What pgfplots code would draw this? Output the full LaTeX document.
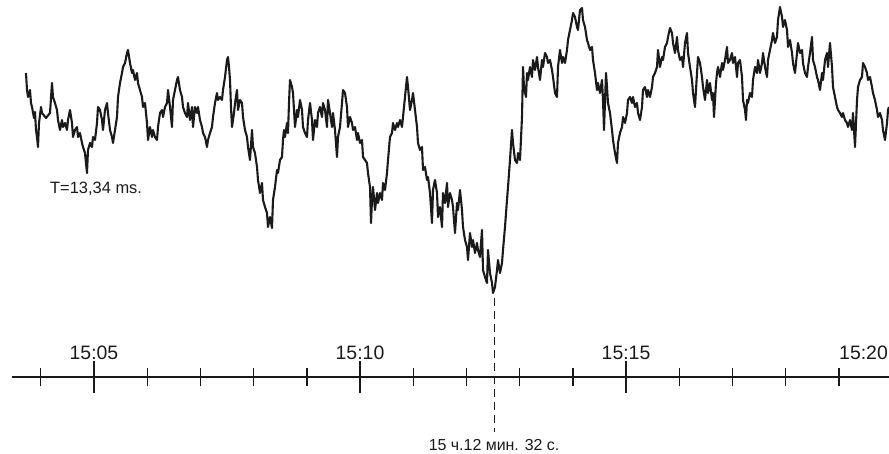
\documentclass[border=0pt]{standalone}
\usepackage{fontspec}
\setmainfont{Liberation Sans}
\usepackage{pgfplots}
\pgfplotsset{compat=1.18}
\usepackage{pgfplotstable}
% trace: column 0 = horizontal position, column 1 = vertical position (scan units)
\pgfplotstableread{
px py
26 73
27 90
28 97
30 90
31 103
32 107
34 118
35 112
36 130
37 137
38 147
39 123
41 107
42 113
46 118
50 113
52 83
53 97
55 103
57 110
58 120
60 130
62 120
63 127
65 123
67 130
68 120
70 110
72 123
73 137
75 130
77 127
78 137
80 133
82 143
83 147
85 153
87 173
88 150
90 143
92 147
93 137
95 140
97 123
98 107
100 110
102 120
103 130
105 110
107 103
108 113
110 130
112 137
113 143
115 130
117 117
118 97
120 83
122 73
123 67
125 63
127 53
128 50
130 63
132 73
133 70
135 80
137 73
138 83
140 90
142 97
143 107
145 103
147 123
148 140
150 127
152 137
153 130
155 137
157 140
158 127
160 113
162 110
163 117
165 107
167 103
168 90
170 107
172 127
173 100
175 90
177 80
178 77
180 90
182 97
183 107
185 113
187 117
188 103
190 120
192 107
193 127
195 107
197 113
198 107
200 120
202 127
203 133
205 137
207 147
208 140
210 133
212 127
213 117
215 103
217 93
218 100
220 97
222 100
223 90
225 77
227 60
228 57
229 67
230 80
231 107
232 127
234 113
235 103
237 90
238 110
240 100
242 103
243 117
245 130
247 137
248 147
250 160
252 130
253 147
255 153
257 167
258 180
260 193
262 183
263 200
265 207
267 213
268 227
270 217
272 228
273 200
275 187
277 170
278 173
280 160
282 157
283 140
284 130
285 137
287 123
288 133
289 103
290 80
292 87
293 93
295 127
297 110
298 117
300 100
302 110
303 127
305 133
307 137
308 120
310 103
312 120
313 140
315 120
317 127
318 113
320 107
322 117
323 103
325 110
327 127
328 100
330 113
332 127
333 113
335 130
337 157
338 137
340 127
342 103
343 90
345 93
347 107
348 127
350 117
352 123
353 130
355 127
357 140
358 133
360 143
362 140
363 157
365 160
367 163
368 173
370 187
371 223
372 200
373 187
375 210
377 193
378 203
380 193
382 200
383 183
385 190
387 173
388 160
390 137
392 133
393 123
395 130
397 123
398 127
400 120
402 127
403 117
405 97
407 77
408 87
410 110
412 100
413 93
415 110
417 127
418 143
420 150
422 147
423 170
425 167
427 180
428 177
430 193
432 223
433 190
435 180
437 193
438 217
440 207
442 227
443 193
445 203
447 183
448 207
450 193
452 200
453 207
455 233
457 203
458 210
460 190
462 210
463 227
465 240
467 247
468 260
470 233
472 247
473 240
475 253
477 243
478 250
480 257
482 230
483 270
485 277
487 283
488 250
490 273
492 283
493 293
495 287
497 270
498 260
500 273
502 263
503 250
505 227
507 200
508 187
510 160
512 130
513 143
515 160
517 163
518 153
520 160
522 117
523 67
524 87
526 97
527 73
528 80
530 67
532 77
533 60
535 70
537 57
538 67
540 80
542 60
543 67
545 53
547 57
548 63
550 60
552 70
553 77
555 93
557 97
558 67
560 50
562 63
563 57
565 63
567 50
568 40
570 30
572 20
573 13
575 17
577 27
578 30
580 10
582 8
583 20
585 27
587 40
588 43
590 50
592 47
593 60
595 73
597 90
598 83
600 93
602 80
603 100
604 130
606 73
607 87
608 103
610 113
612 130
613 140
615 153
617 163
618 143
620 133
622 127
623 117
625 123
627 113
628 100
630 97
632 103
633 97
635 107
637 103
638 113
640 120
642 107
643 90
645 87
647 97
648 90
650 97
652 87
653 77
655 73
657 67
658 50
660 67
662 57
663 60
665 47
667 43
668 37
670 28
672 33
673 43
675 53
677 37
678 50
680 60
682 57
683 67
685 43
687 33
688 53
690 67
692 80
693 93
695 107
697 73
698 57
700 63
702 77
703 87
705 100
707 80
708 93
710 83
712 100
713 93
714 117
716 83
717 73
718 67
720 77
722 63
723 70
725 60
727 47
728 63
730 60
732 53
733 63
735 57
737 77
738 63
740 60
742 77
743 100
745 110
746 120
747 100
748 103
750 93
752 97
753 80
755 67
757 73
758 60
760 73
762 63
763 53
765 67
767 77
768 60
770 50
772 40
773 33
775 43
777 37
778 20
780 7
782 17
783 27
785 20
787 30
788 47
790 40
792 53
793 63
795 73
797 53
798 43
800 53
802 50
803 63
805 73
807 77
808 67
810 53
812 37
813 60
815 67
817 77
818 80
820 90
822 73
823 80
825 60
827 53
828 67
830 43
832 67
833 87
835 97
837 107
838 110
840 113
842 117
843 113
845 120
847 123
848 127
850 120
852 130
853 113
855 147
857 100
858 87
860 80
862 77
863 63
865 67
867 73
868 80
870 77
872 87
873 93
875 100
877 110
878 117
880 113
882 120
883 130
885 140
887 123
888 110
889 107
}\trace
\definecolor{ink}{HTML}{1A1A1A}
\begin{document}
\begin{tikzpicture}
\begin{axis}[
  name=ax,
  scale only axis,
  width=889bp, height=454bp,
  xmin=3.2331, xmax=19.9436,
  ymin=-77, ymax=377,
  axis x line=middle,
  axis y line=none,
  x axis line style={draw=none},
  xtick={5,10,15,20},
  minor xtick={4,6,7,8,9,11,12,13,14,16,17,18,19},
  xticklabels={},
  tick align=center,
  major tick length=32bp,
  minor tick length=18bp,
  tick style={ink, line width=1.4bp},
  clip=false,
]
% time axis line
\addplot[ink, line width=1.5bp] coordinates {(3.4586,0) (19.9436,0)};
% signal
\addplot[ink, line width=2.1bp, line join=round]
  table[x expr={(\thisrowno{0}-94)/53.2+5}, y expr={377-\thisrowno{1}}] {\trace};
% marker of the minimum moment 15:12:32
\addplot[ink, line width=1.3bp, dash pattern=on 8bp off 5bp]
  coordinates {(12.5333,79) (12.5333,-55)};
\node[anchor=base, text=ink, inner sep=0pt, font=\fontsize{19.5}{22}\selectfont] at (axis cs:5,17) {15:05};
\node[anchor=base, text=ink, inner sep=0pt, font=\fontsize{19.5}{22}\selectfont] at (axis cs:10,17) {15:10};
\node[anchor=base, text=ink, inner sep=0pt, font=\fontsize{19.5}{22}\selectfont] at (axis cs:15,17) {15:15};
\node[anchor=base east, text=ink, inner sep=0pt, font=\fontsize{19.5}{22}\selectfont] at (axis cs:19.925,17) {15:20};
\node[anchor=base west, text=ink, inner sep=0pt, font=\fontsize{16.5}{19}\selectfont] at (axis cs:4.173,183) {T=13,34 ms.};
\node[anchor=base, text=ink, inner sep=0pt, font=\fontsize{16}{19}\selectfont] at (axis cs:12.52,-73) {15 ч.12 мин. 32 с.};
\end{axis}
\pgfresetboundingbox
\path[use as bounding box] (ax.south west) rectangle (ax.north east);
\end{tikzpicture}
\end{document}
